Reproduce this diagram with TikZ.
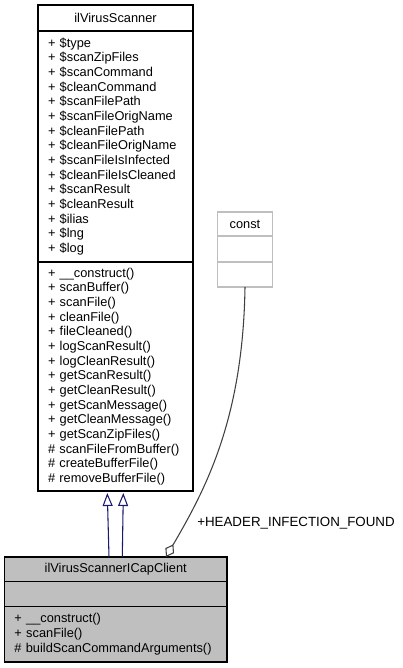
\documentclass[tikz,border=0pt]{standalone}
\usepackage{fontspec}
\setmainfont{Liberation Sans}
\usetikzlibrary{positioning,arrows.meta,calc}
\definecolor{inheritblue}{HTML}{191970}
\definecolor{classgray}{HTML}{BFBFBF}
\definecolor{usegray}{HTML}{404040}
\begin{document}
\begin{tikzpicture}[x=0.75pt,y=-0.75pt,
  font={\fontsize{9.6}{11}\selectfont\hyphenpenalty=10000\exhyphenpenalty=10000},
  part/.style={draw,rectangle,outer sep=0pt,line width=0.8pt,inner xsep=7.5pt,inner ysep=0pt},
  header/.style={part,align=center},
  members/.style={part,align=left},
  inherit/.style={inheritblue,line width=0.8pt,-{Triangle[open,length=9.75pt,width=7.5pt]}},
  aggregate/.style={usegray,line width=0.8pt,-{Diamond[open,length=11pt,width=7.5pt]}}]
  \useasboundingbox (0,0) rectangle (403,668);
  \node[header,minimum width=116.25pt,minimum height=19.5pt] (base) at (115.5,18) {ilVirusScanner};
  \node[members,below=0pt of base,text width=101.25pt,minimum height=173.25pt] (base attrs)
    {+ \$type\\+ \$scanZipFiles\\+ \$scanCommand\\+ \$cleanCommand\\+ \$scanFilePath\\+ \$scanFileOrigName\\+ \$cleanFilePath\\+ \$cleanFileOrigName\\+ \$scanFileIsInfected\\+ \$cleanFileIsCleaned\\+ \$scanResult\\+ \$cleanResult\\+ \$ilias\\+ \$lng\\+ \$log};
  \node[members,below=0pt of base attrs,text width=101.25pt,minimum height=171.75pt] (base methods)
    {+ \_\_construct()\\+ scanBuffer()\\+ scanFile()\\+ cleanFile()\\+ fileCleaned()\\+ logScanResult()\\+ logCleanResult()\\+ getScanResult()\\+ getCleanResult()\\+ getScanMessage()\\+ getCleanMessage()\\+ getScanZipFiles()\\\# scanFileFromBuffer()\\\# createBufferFile()\\\# removeBufferFile()};
  \node[header,draw=classgray,minimum width=41.25pt,minimum height=18pt] (const) at (245,224) {const};
  \node[members,draw=classgray,below=0pt of const,text width=26.25pt,minimum height=19.5pt] (const attrs) {};
  \node[members,draw=classgray,below=0pt of const attrs,text width=26.25pt,minimum height=18.75pt] (const methods) {};
  \node[header,fill=classgray,minimum width=166.9pt,minimum height=18.4pt] (client) at (115.75,569.25) {ilVirusScannerICapClient};
  \node[members,fill=classgray,below=0pt of client,text width=151.9pt,minimum height=18.75pt] (client attrs) {};
  \node[members,fill=classgray,below=0pt of client attrs,text width=151.9pt,minimum height=41.6pt] (client methods)
    {+ \_\_construct()\\+ scanFile()\\\# buildScanCommandArguments()};
  \draw[inherit] ($(client.north)+(-6.75,0)$) -- ($(base methods.south)+(-8.2,2)$);
  \draw[inherit] ($(client.north)+(6.55,0)$) -- ($(base methods.south)+(7.8,2)$);
  \draw[aggregate] (const methods.south) .. controls (243,420) and (205,490) .. ($(client.north)+(50.25,0)$);
  \node[font=\fontsize{10}{11}\selectfont] (agg label) at (296,523) {+HEADER\_INFECTION\_FOUND};
\end{tikzpicture}
\end{document}
